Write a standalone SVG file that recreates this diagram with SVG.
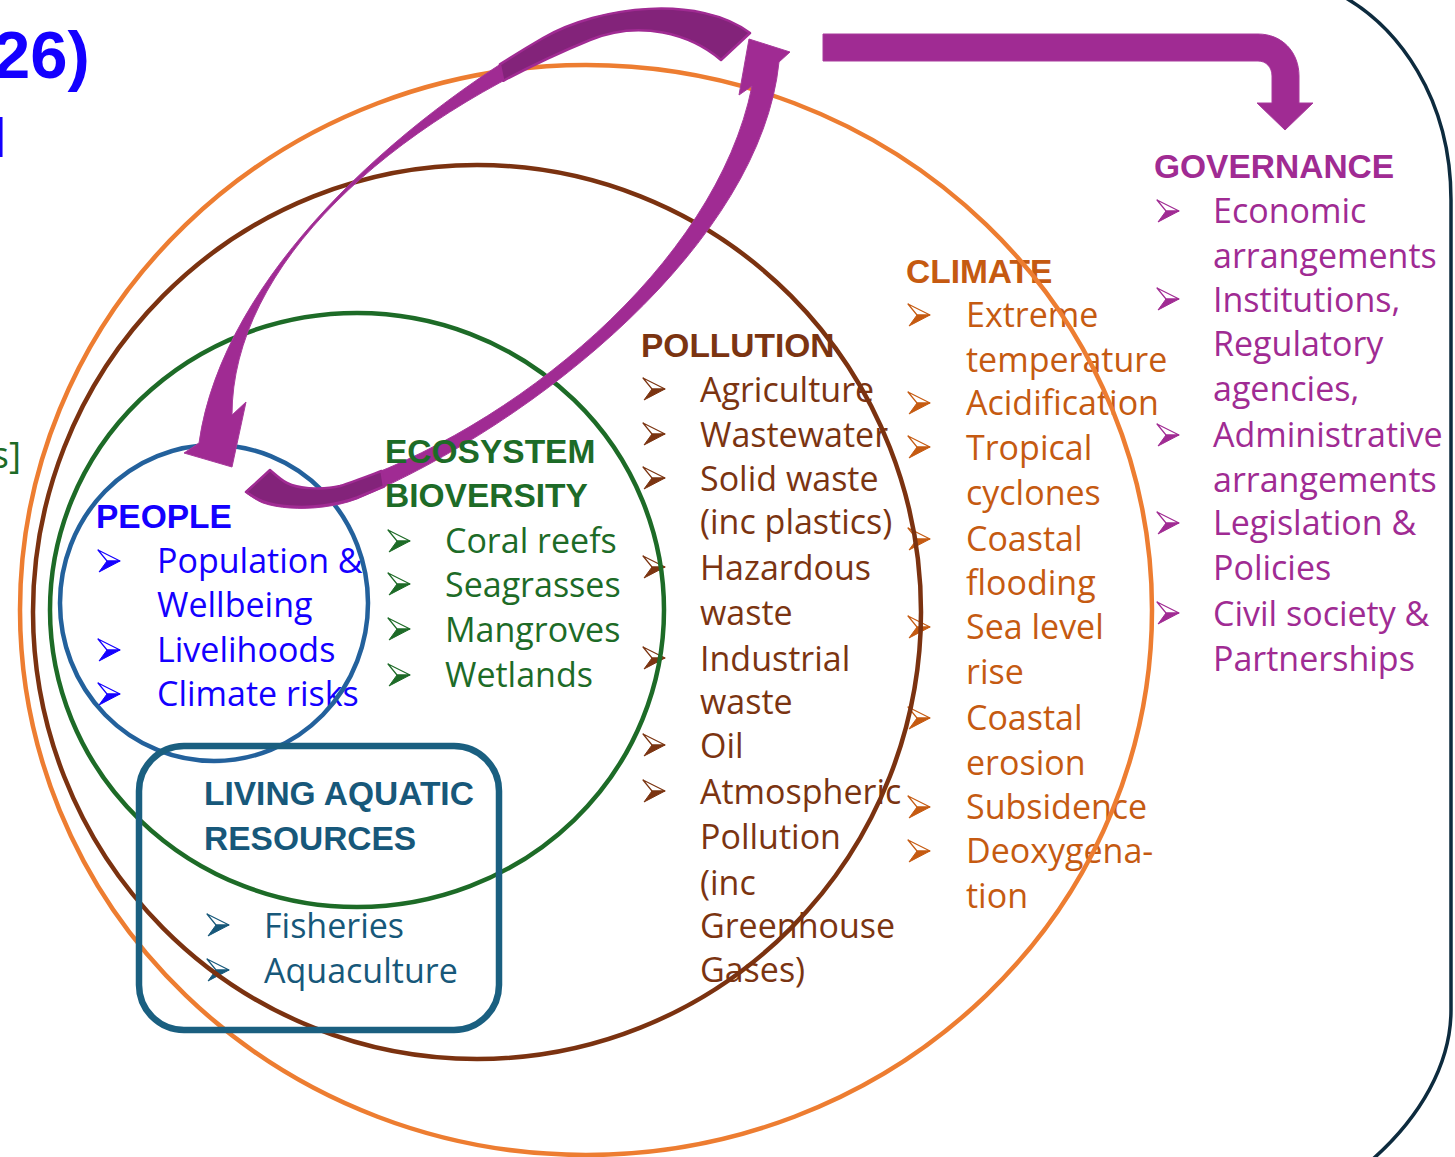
<svg xmlns="http://www.w3.org/2000/svg" width="1455" height="1157" viewBox="0 0 1455 1157">
<style>
.b{font-family:"Open Sans","Noto Sans",sans-serif;font-size:34px}
.h{font-family:"Liberation Sans",Arial,sans-serif;font-size:33.5px;font-weight:bold}
.ring{fill:none;stroke-width:4.5}
.arr{fill:#a02b93;stroke:#a83a9c;stroke-width:1}
.dk{fill:#83237a;stroke:#a02b93;stroke-width:2.5;stroke-linejoin:round}
</style>
<defs>
<g id="bul">
<path d="M0,-11 L22,0 L9,0 Z" fill="#fff" stroke="currentColor" stroke-width="1.2" stroke-linejoin="round"/>
<path d="M9,0 L22,0 L1,11 Z" fill="currentColor" stroke="currentColor" stroke-width="1" stroke-linejoin="round"/>
</g>
</defs>
<rect width="1455" height="1157" fill="#fff"/>

<!-- outer frame -->
<path id="frame" d="M1335,-8 C1400,25 1451,100 1451,200 L1451,1010 C1451,1062 1422,1118 1366,1165" fill="none" stroke="#0d2b3e" stroke-width="3.5"/>

<!-- partial title text -->
<g id="title">
<text x="-7" y="78" font-family="Liberation Sans, Arial, sans-serif" font-weight="bold" font-size="67" fill="#1400ff">26)</text>
<text x="-6" y="157" font-family="Liberation Sans, Arial, sans-serif" font-size="55" fill="#1400ff">l</text>
<text x="21" y="468" text-anchor="end" font-family="Open Sans, sans-serif" font-size="37" fill="#1d6b27">s]</text>
</g>

<!-- PEOPLE -->
<g id="people" fill="#1400ff" color="#1400ff">
<text class="h" x="96" y="528">PEOPLE</text>
<use href="#bul" x="98" y="561"/>
<text class="b" x="157" y="573">Population &amp;</text>
<text class="b" x="157" y="617">Wellbeing</text>
<use href="#bul" x="98" y="650"/>
<text class="b" x="157" y="662">Livelihoods</text>
<use href="#bul" x="98" y="694"/>
<text class="b" x="157" y="706">Climate risks</text>
</g>

<!-- ECOSYSTEM items -->
<g id="ecosystem-items" fill="#1d6b27" color="#1d6b27">
<use href="#bul" x="388" y="541"/>
<text class="b" x="445" y="553">Coral reefs</text>
<use href="#bul" x="388" y="584"/>
<text class="b" x="445" y="597">Seagrasses</text>
<use href="#bul" x="388" y="629"/>
<text class="b" x="445" y="642">Mangroves</text>
<use href="#bul" x="388" y="675"/>
<text class="b" x="445" y="687">Wetlands</text>
</g>

<!-- POLLUTION -->
<g id="pollution" fill="#7b3411" color="#7b3411">
<text class="h" x="641" y="357">POLLUTION</text>
<use href="#bul" x="643" y="389"/>
<text class="b" x="700" y="402">Agriculture</text>
<use href="#bul" x="643" y="434"/>
<text class="b" x="700" y="447">Wastewater</text>
<use href="#bul" x="643" y="478"/>
<text class="b" x="700" y="491">Solid waste</text>
<text class="b" x="700" y="534">(inc plastics)</text>
<use href="#bul" x="643" y="567"/>
<text class="b" x="700" y="580">Hazardous</text>
<text class="b" x="700" y="625">waste</text>
<use href="#bul" x="643" y="658"/>
<text class="b" x="700" y="671">Industrial</text>
<text class="b" x="700" y="714">waste</text>
<use href="#bul" x="643" y="745"/>
<text class="b" x="700" y="758">Oil</text>
<use href="#bul" x="643" y="791"/>
<text class="b" x="700" y="804">Atmospheric</text>
<text class="b" x="700" y="849">Pollution</text>
<text class="b" x="700" y="895">(inc</text>
<text class="b" x="700" y="938">Greenhouse</text>
<text class="b" x="700" y="982">Gases)</text>
</g>

<!-- CLIMATE -->
<g id="climate" fill="#c55a11" color="#c55a11">
<text class="h" x="906" y="283">CLIMATE</text>
<use href="#bul" x="908" y="315"/>
<text class="b" x="966" y="327">Extreme</text>
<text class="b" x="966" y="372">temperature</text>
<use href="#bul" x="908" y="403"/>
<text class="b" x="966" y="415">Acidification</text>
<use href="#bul" x="908" y="447"/>
<text class="b" x="966" y="460">Tropical</text>
<text class="b" x="966" y="505">cyclones</text>
<use href="#bul" x="908" y="539"/>
<text class="b" x="966" y="551">Coastal</text>
<text class="b" x="966" y="595">flooding</text>
<use href="#bul" x="908" y="627"/>
<text class="b" x="966" y="639">Sea level</text>
<text class="b" x="966" y="684">rise</text>
<use href="#bul" x="908" y="718"/>
<text class="b" x="966" y="730">Coastal</text>
<text class="b" x="966" y="775">erosion</text>
<use href="#bul" x="908" y="807"/>
<text class="b" x="966" y="819">Subsidence</text>
<use href="#bul" x="908" y="851"/>
<text class="b" x="966" y="863">Deoxygena-</text>
<text class="b" x="966" y="908">tion</text>
</g>

<!-- GOVERNANCE -->
<g id="governance" fill="#a02b93" color="#a02b93">
<text class="h" x="1154" y="178">GOVERNANCE</text>
<use href="#bul" x="1157" y="211"/>
<text class="b" x="1213" y="223">Economic</text>
<text class="b" x="1213" y="268">arrangements</text>
<use href="#bul" x="1157" y="299"/>
<text class="b" x="1213" y="312">Institutions,</text>
<text class="b" x="1213" y="356">Regulatory</text>
<text class="b" x="1213" y="401">agencies,</text>
<use href="#bul" x="1157" y="435"/>
<text class="b" x="1213" y="447">Administrative</text>
<text class="b" x="1213" y="492">arrangements</text>
<use href="#bul" x="1157" y="523"/>
<text class="b" x="1213" y="535">Legislation &amp;</text>
<text class="b" x="1213" y="580">Policies</text>
<use href="#bul" x="1157" y="613"/>
<text class="b" x="1213" y="626">Civil society &amp;</text>
<text class="b" x="1213" y="671">Partnerships</text>
</g>

<!-- LIVING AQUATIC RESOURCES -->
<g id="lar" fill="#17587a" color="#17587a">
<text class="h" x="204" y="805">LIVING AQUATIC</text>
<text class="h" x="204" y="850">RESOURCES</text>
<use href="#bul" x="207" y="925"/>
<text class="b" x="264" y="938">Fisheries</text>
<use href="#bul" x="207" y="970"/>
<text class="b" x="264" y="983">Aquaculture</text>
</g>

<!-- rings -->
<g id="rings">
<ellipse id="ring-climate" class="ring" cx="586" cy="610" rx="566" ry="545" stroke="#ed7d31"/>
<ellipse id="ring-pollution" class="ring" cx="477" cy="612" rx="444" ry="447" stroke="#7b3210"/>
<ellipse id="ring-ecosystem" class="ring" cx="357" cy="610" rx="307" ry="297" stroke="#1d6b27"/>
<ellipse id="ring-people" class="ring" cx="214" cy="603" rx="154" ry="158" stroke="#23619c"/>
<rect id="box-lar" x="139" y="746" width="360" height="284" rx="45" fill="none" stroke="#1a5f80" stroke-width="6.5"/>
</g>

<!-- connectors -->
<g id="connectors">
<!-- arrow A: top-right to PEOPLE -->
<path class="arr" d="M750,33 C700,-5 600,5 543,38 C403,119 223,273 199,443 L184,453 L232,467 L246,402 L232,415 C232,265 390,122 590,40 C640,19.5 690.6,34 721,60 Z"/>
<path class="dk" d="M750,33 C700,-5 600,5 543,38 C529,46.1 514.6,54.9 499.9,64.4 L503.2,80.8 C530.9,66 560,52.3 590,40 C640,19.5 690.6,34 721,60 Z"/>
<!-- arrow B: PEOPLE to top-right -->
<path class="arr" d="M245,492 C248,493.8 255.5,500.3 263,503 C270.5,505.7 280,507.3 290,508 C300,508.7 311.8,508.5 323,507 C334,505.5 345,503.5 357,499 C537,423 761,242 779,62 L790,52 L749,39 L739,95 L752,86 C716,266 510,431.6 340,486 C326.2,489.5 315.8,488.5 307,488 C298.2,487.5 293.2,486 287,483 C280.8,480 272.8,472.2 270,470 Z"/>
<path class="dk" d="M246,492 C249,493.8 256,499 263,501.5 C270.5,504.2 280,505.8 290,506.5 C300,507.2 311.8,507 323,505.5 C334,504 345,502 357,497.5 L384,486.5 L381.5,471 C367,476.5 353,482 340,486 C326.2,489.5 315.8,488.5 307,488 C298.2,487.5 293.2,486 287,483 C280.8,480 272.8,472.2 270,470 Z"/>
<!-- arrow C: bent arrow to GOVERNANCE -->
<path class="arr" stroke="none" d="M823,34 L1258,34 C1282,34 1299,52 1299,76 L1299,103 L1313,103 L1285,130 L1257,103 L1272,103 L1272,76 C1272,67 1266,61 1258,61 L823,61 Z"/>
</g>

<!-- ECOSYSTEM heading (drawn above arrow) -->
<g id="ecosystem" fill="#1d6b27">
<text class="h" x="385" y="463">ECOSYSTEM</text>
<text class="h" x="385" y="507">BIOVERSITY</text>
</g>
</svg>
